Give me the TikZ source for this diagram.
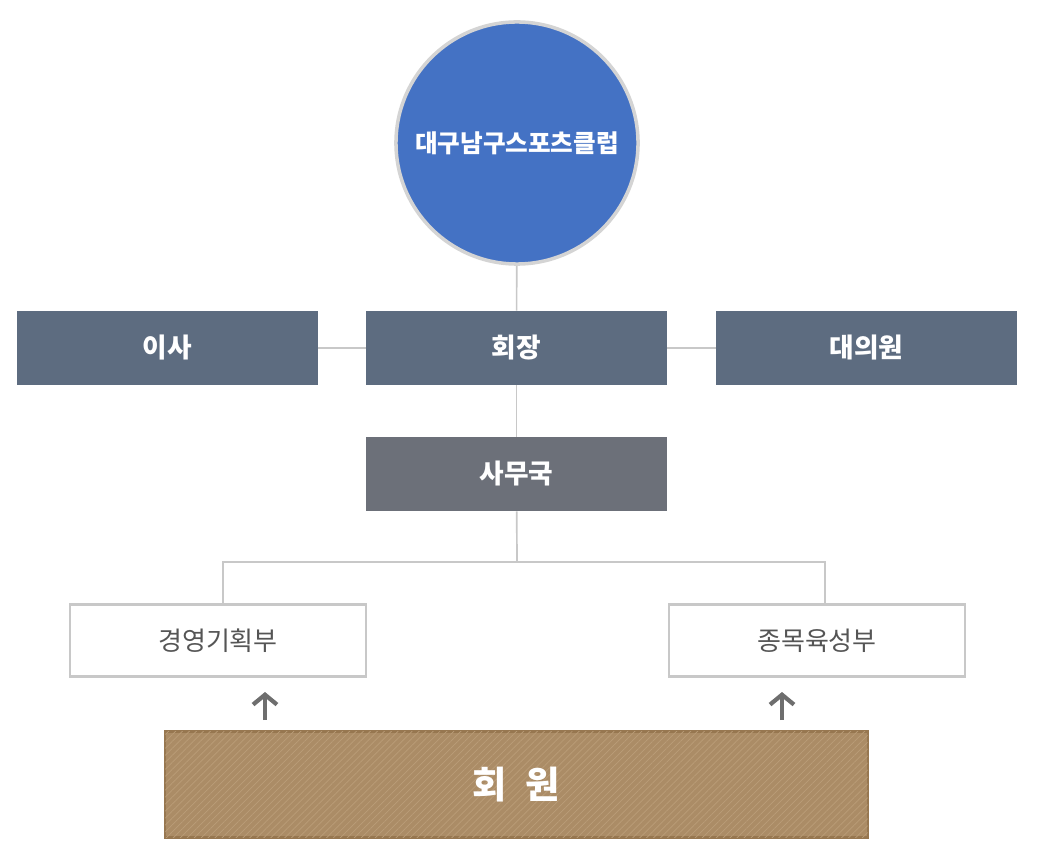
\documentclass[tikz,border=0pt]{standalone}
\usepackage{fontspec}
\setmainfont{Noto Sans CJK KR}
\usetikzlibrary{arrows.meta,patterns.meta}
\definecolor{clubblue}{HTML}{4472C4}
\definecolor{ringgray}{HTML}{D4D4D4}
\definecolor{slate}{HTML}{5D6C80}
\definecolor{office}{HTML}{6C7079}
\definecolor{linegray}{HTML}{C8C8C8}
\definecolor{textgray}{HTML}{555555}
\definecolor{arrowgray}{HTML}{6E6E6E}
\definecolor{brown}{HTML}{AB8C66}
\definecolor{brownline}{HTML}{BA9D78}
\definecolor{brownedge}{HTML}{977750}
\begin{document}
\begin{tikzpicture}[x=0.025cm,y=-0.025cm,
    darkbox/.style={fill=slate,text=white,font=\bfseries\fontsize{19}{19}\selectfont,
        minimum width=7.5cm,minimum height=1.85cm,inner sep=0pt},
    lightbox/.style={draw=linegray,line width=2pt,fill=white,text=textgray,
        font=\fontsize{18.5}{18.5}\selectfont,minimum width=7.4cm,minimum height=1.78cm,inner sep=0pt},
    link/.style={draw=linegray,line width=1.2pt},
    uparr/.style={draw=arrowgray,line width=3pt,-{Straight Barb[length=7pt,width=17pt]}}]
    \useasboundingbox (0,0) rectangle (1038,865);
    % top circle
    \node (club) at (517,143) [circle,fill=clubblue,draw=ringgray,line width=2.5pt,
        minimum size=6.05cm,inner sep=0pt,text=white,font=\bfseries\fontsize{17.5}{17.5}\selectfont] {대구남구스포츠클럽};
    % second row
    \node (isa) at (167.5,348) [darkbox] {이사};
    \node (hoejang) at (516.5,348) [darkbox] {회장};
    \node (daeui) at (866.5,348) [darkbox] {대의원};
    \node (samu) at (516.5,474) [darkbox,fill=office] {사무국};
    % departments
    \node (gyeong) at (218,640.5) [lightbox] {경영기획부};
    \node (jongmok) at (817,640.5) [lightbox] {종목육성부};
    % members
    \node (hoewon) at (516.5,784.5) [draw=brownedge,line width=1.5pt,fill=brown,
        postaction={pattern={Lines[angle=45,distance=3.5pt,line width=0.5pt]},pattern color=brownline},
        minimum width=17.55cm,minimum height=2.65cm,text=white,
        font=\bfseries\fontsize{26.5}{26.5}\selectfont] {회\hspace{0.5em}원};
    \draw[link] (club) -- (hoejang);
    \draw[link] (isa) -- (hoejang);
    \draw[link] (hoejang) -- (daeui);
    \draw[link] (hoejang) -- (samu);
    \coordinate (split) at (517,562);
    \draw[link] (samu) -- (split);
    \draw[link] ([xshift=0.13cm]gyeong.north) |- (split) -| ([xshift=0.2cm]jongmok.north);
    % arrows
    \coordinate (a1) at (265,720);
    \coordinate (b1) at (265,692);
    \coordinate (a2) at (782,720);
    \coordinate (b2) at (782,692);
    \draw[uparr] (a1) -- (b1);
    \draw[uparr] (a2) -- (b2);
\end{tikzpicture}
\end{document}
